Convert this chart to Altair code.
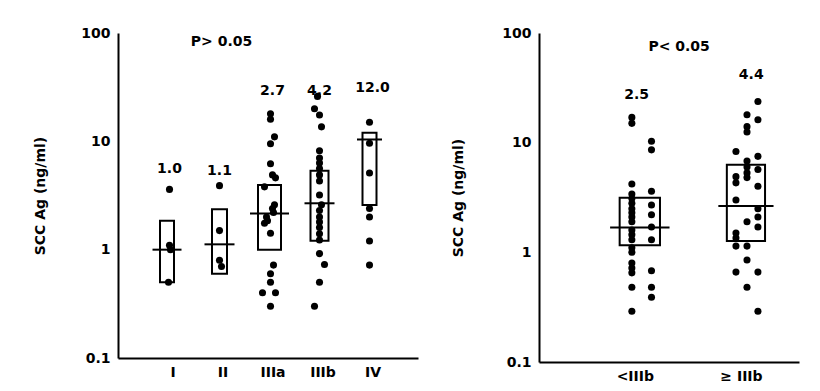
import altair as alt
import pandas as pd

FONT = "DejaVu Sans"

# ---------------- data: left panel ----------------
left_cats = ["I", "II", "IIIa", "IIIb", "IV"]

i_vals = [3.6, 1.1, 1.0, 0.5]
i_offs = [0.0, 0.0, 0.02, -0.02]
ii_vals = [3.9, 1.5, 0.8, 0.7]
ii_offs = [0.0, 0.0, 0.0, 0.04]
iiia_vals = [18, 16, 11, 9.5, 6.2, 4.9, 4.6, 3.8, 2.6, 2.4, 2.2, 2.0, 1.85, 1.75,
             1.42, 0.72, 0.6, 0.5, 0.4, 0.4, 0.3]
iiia_offs = [0.02, 0.02, 0.1, 0.02, 0.02, 0.06, 0.12, -0.1, 0.1, 0.06, 0.08, -0.06,
             -0.04, -0.1, 0.02, 0.08, 0.02, 0.02, -0.14, 0.12, 0.02]
iiib_vals = [26, 20, 17.5, 13.6, 8.2, 7.0, 6.3, 5.6, 4.9, 4.3, 3.2, 2.6, 2.3, 2.0,
             1.8, 1.6, 1.4, 1.23, 0.92, 0.73, 0.5, 0.3]
iiib_offs = [-0.04, -0.1, 0.0, 0.04, 0.0, 0.0, 0.0, 0.0, 0.0, 0.0, 0.0, 0.04, 0.0,
             0.0, 0.0, 0.0, 0.0, 0.0, 0.0, 0.1, 0.0, -0.1]
iv_vals = [15, 9.6, 5.1, 2.4, 2.0, 1.2, 0.72]
iv_offs = [0.0, 0.0, 0.0, 0.0, 0.0, 0.0, 0.0]

left_box_lo = [0.5, 0.6, 1.0, 1.21, 2.58]
left_box_hi = [1.85, 2.36, 3.95, 5.36, 12.0]
left_median = [1.0, 1.12, 2.16, 2.68, 10.4]
left_box_hw = [0.14, 0.15, 0.23, 0.18, 0.14]
left_med_hw = [0.29, 0.30, 0.39, 0.30, 0.25]
left_box_shift = [-0.05, 0.0, 0.0, 0.0, 0.0]

left_labels = ["1.0", "1.1", "2.7", "4.2", "12.0"]
left_label_y = [5.6, 5.3, 29.2, 29.2, 31.0]
left_label_dx = [0.0, 0.0, 0.06, 0.0, 0.06]

# ---------------- data: right panel ----------------
right_cats = ["<IIIb", "\u2265 IIIb"]

lt_a_vals = [17, 15, 4.2, 3.4, 3.1, 2.8, 2.5, 2.3, 2.1, 1.9, 1.6, 1.45, 1.3, 1.1,
             1.0, 0.8, 0.72, 0.65, 0.48, 0.29]
lt_b_vals = [10.3, 8.6, 3.6, 2.7, 2.2, 1.7, 1.3, 0.68, 0.48, 0.39]
ge_a_vals = [8.3, 4.9, 4.3, 3.0, 1.5, 1.35, 1.14, 0.66]
ge_b_vals = [18, 14, 12.5, 6.8, 6.0, 5.3, 4.8, 1.9, 1.14, 0.85, 0.48]
ge_c_vals = [23.7, 16.2, 7.5, 5.7, 4.0, 2.5, 2.1, 1.7, 0.66, 0.29]
lt_col_offs = [-0.075, 0.11]
ge_col_offs = [-0.094, 0.01, 0.113]

right_box_lo = [1.16, 1.27]
right_box_hi = [3.14, 6.3]
right_median = [1.68, 2.64]
right_box_hw = [0.19, 0.18]
right_med_hw = [0.28, 0.26]

right_labels = ["2.5", "4.4"]
right_label_y = [27.2, 41.4]
right_label_dx = [-0.03, 0.05]

p_texts = ["P> 0.05", "P< 0.05"]
p_x = [2.04, 1.37]
p_y = [82.6, 74.5]

# ---------------- build tables ----------------
def pts(groups):
    rows = []
    for idx, vals, offs in groups:
        for v, o in zip(vals, offs):
            rows.append({"xpos": idx + o, "value": v})
    return pd.DataFrame(rows)

left_pts = pts([
    (1, i_vals, i_offs), (2, ii_vals, ii_offs), (3, iiia_vals, iiia_offs),
    (4, iiib_vals, iiib_offs), (5, iv_vals, iv_offs),
])
right_pts = pts([
    (1, lt_a_vals, [lt_col_offs[0]] * len(lt_a_vals)),
    (1, lt_b_vals, [lt_col_offs[1]] * len(lt_b_vals)),
    (2, ge_a_vals, [ge_col_offs[0]] * len(ge_a_vals)),
    (2, ge_b_vals, [ge_col_offs[1]] * len(ge_b_vals)),
    (2, ge_c_vals, [ge_col_offs[2]] * len(ge_c_vals)),
])

def boxes(lo, hi, med, bhw, mhw, shift):
    n = len(lo)
    return pd.DataFrame({
        "idx": [i + 1 + shift[i] for i in range(n)],
        "lo": lo, "hi": hi, "med": med, "bhw": bhw, "mhw": mhw,
    })

left_box = boxes(left_box_lo, left_box_hi, left_median, left_box_hw, left_med_hw, left_box_shift)
right_box = boxes(right_box_lo, right_box_hi, right_median, right_box_hw, right_med_hw, [0, 0])

left_txt = pd.DataFrame({
    "x": [i + 1 + d for i, d in enumerate(left_label_dx)] + [p_x[0]],
    "y": left_label_y + [p_y[0]],
    "t": left_labels + [p_texts[0]],
})
right_txt = pd.DataFrame({
    "x": [i + 1 + d for i, d in enumerate(right_label_dx)] + [p_x[1]],
    "y": right_label_y + [p_y[1]],
    "t": right_labels + [p_texts[1]],
})


def panel(points, box, txt, cats, xdomain, width, height, title_pad, label_off):
    xs = alt.Scale(domain=xdomain, nice=False, zero=False)
    ys = alt.Scale(type="log", domain=[0.1, 100], nice=False)
    label_expr = "[" + ",".join("'" + c + "'" for c in cats) + "][datum.value - 1]"
    xaxis = alt.Axis(values=list(range(1, len(cats) + 1)), labelExpr=label_expr,
                     title="", ticks=False, grid=False, labelPadding=7,
                     labelOffset=label_off, domainColor="black", domainWidth=2,
                     labelFont=FONT, labelFontSize=14, labelFontWeight="bold",
                     labelColor="black")
    yaxis = alt.Axis(values=[0.1, 1, 10, 100], format="~g", title="SCC Ag (ng/ml)",
                     ticks=False, grid=False, labelPadding=8, titlePadding=title_pad,
                     domainColor="black", domainWidth=2,
                     labelFont=FONT, labelFontSize=14, labelFontWeight="bold",
                     labelColor="black", titleFont=FONT, titleFontSize=14,
                     titleFontWeight="bold", titleColor="black")

    rects = alt.Chart(box).transform_calculate(
        x0="datum.idx - datum.bhw", x1="datum.idx + datum.bhw"
    ).mark_rect(fillOpacity=0, fill="white", stroke="black", strokeWidth=2).encode(
        x=alt.X("x0:Q", scale=xs, axis=xaxis),
        x2="x1:Q",
        y=alt.Y("lo:Q", scale=ys, axis=yaxis),
        y2="hi:Q",
    )
    meds = alt.Chart(box).transform_calculate(
        m0="datum.idx - datum.mhw", m1="datum.idx + datum.mhw"
    ).mark_rule(color="black", strokeWidth=2).encode(
        x=alt.X("m0:Q", scale=xs, axis=xaxis),
        x2="m1:Q",
        y=alt.Y("med:Q", scale=ys, axis=yaxis),
    )
    dots = alt.Chart(points).mark_circle(size=50, color="black", opacity=1).encode(
        x=alt.X("xpos:Q", scale=xs, axis=xaxis),
        y=alt.Y("value:Q", scale=ys, axis=yaxis),
    )
    texts = alt.Chart(txt).mark_text(font=FONT, fontSize=14, fontWeight="bold",
                                     color="black", baseline="middle", align="center").encode(
        x=alt.X("x:Q", scale=xs, axis=xaxis),
        y=alt.Y("y:Q", scale=ys, axis=yaxis),
        text="t:N",
    )
    return alt.layer(rects, meds, dots, texts).properties(width=width, height=height)


left = panel(left_pts, left_box, left_txt, left_cats, [-0.03, 5.97], 300, 325, 33, 3)
right = panel(right_pts, right_box, right_txt, right_cats, [0.05, 2.5], 260, 329, 36, -5)

chart = alt.hconcat(left, right, spacing=33).properties(
    padding={"left": 25, "top": 18, "right": 5, "bottom": 0},
    background="white",
).configure_view(strokeWidth=0, stroke="transparent")

chart.save("out.html", embed_options={"renderer": "svg", "actions": False})
